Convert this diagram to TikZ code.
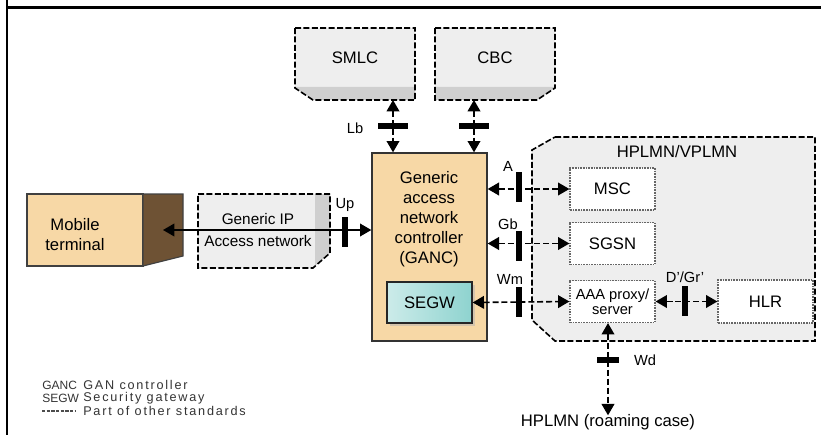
\documentclass[tikz,border=0pt]{standalone}
\usepackage{fontspec}
\setmainfont{Liberation Sans}
\newfontfamily\legendfont[LetterSpace=14]{Liberation Sans}
\usetikzlibrary{arrows.meta,shadows}

\definecolor{tan}{HTML}{F7D8A6}
\definecolor{bark}{HTML}{6E5234}
\definecolor{segwcol}{HTML}{8ED3CF}
\definecolor{netgray}{HTML}{EEEEEE}
\definecolor{stripgray}{HTML}{CFCFCF}

\tikzset{
	tip/.tip={Triangle[length=8.5pt,width=9.5pt]},
	ifarrow/.style={tip-tip, line width=1.2pt, dash pattern=on 4.5pt off 2.2pt},
	uparrow/.style={tip-tip, line width=1.2pt},
	vbar/.style={fill=black, inner sep=0pt, minimum width=3.8pt, minimum height=22pt},
	hbar/.style={fill=black, inner sep=0pt, minimum width=22pt, minimum height=3.8pt},
	otherstd/.style={line width=1.2pt, dash pattern=on 4.5pt off 1.8pt},
	hidden/.style={inner sep=0pt, outer sep=0pt},
	mainlabel/.style={font=\fontsize{12.5}{15}\selectfont, align=center, inner sep=1pt},
	iflabel/.style={font=\fontsize{11}{13}\selectfont, inner sep=1pt},
	netbox/.style={draw=black!60, fill=white, line width=0.9pt, dash pattern=on 1.2pt off 0.8pt,
		minimum width=63.75pt, minimum height=31.5pt, inner sep=0pt, align=center,
		font=\fontsize{12.5}{15}\selectfont},
	legendabbr/.style={text=black!80, font=\fontsize{9}{10}\selectfont, anchor=west, inner sep=0pt},
	legendtxt/.style={text=black!80, font=\legendfont\fontsize{9.5}{10}\selectfont, anchor=west, inner sep=0pt}
}

\begin{document}
\begin{tikzpicture}[x=0.75pt,y=-0.75pt]
	\useasboundingbox (0,0) rectangle (821,435);
	
	% frame
	\draw[line width=2.2pt] (7,0) -- (7,435);
	\draw[line width=2.2pt] (7,7.5) -- (821,7.5);
	
	% SMLC and CBC cards
	\fill[netgray] (295,28) -- (415,28) -- (415,100) -- (313,100) -- (295,88) -- cycle;
	\fill[stripgray] (295,87) -- (415,87) -- (415,100) -- (313,100) -- (295,88) -- cycle;
	\draw[otherstd] (295,28) -- (415,28) -- (415,100) -- (313,100) -- (295,88) -- cycle;
	\fill[netgray] (435,28) -- (555,28) -- (555,88) -- (537,100) -- (435,100) -- cycle;
	\fill[stripgray] (435,87) -- (555,87) -- (555,88) -- (537,100) -- (435,100) -- cycle;
	\draw[otherstd] (435,28) -- (555,28) -- (555,88) -- (537,100) -- (435,100) -- cycle;
	
	% generic IP access network
	\fill[netgray] (198,194) -- (330,194) -- (330,253) -- (313,268) -- (198,268) -- cycle;
	\fill[stripgray] (315,194) -- (330,194) -- (330,253) -- (315,266) -- cycle;
	\draw[otherstd] (198,194) -- (330,194) -- (330,253) -- (313,268) -- (198,268) -- cycle;
	
	% mobile terminal
	\filldraw[fill=tan, draw=black!75, line width=0.9pt] (27,194) rectangle (143,266);
	\filldraw[fill=bark, draw=black!75, line width=0.9pt] (143,194) -- (183,194) -- (183,256) -- (143,266) -- cycle;
	
	% HPLMN/VPLMN area
	\filldraw[fill=netgray, otherstd] (555,137) -- (815,137) -- (815,341) -- (555,341) -- (532,320) -- (532,150) -- cycle;
	
	\node[hidden, minimum width=90pt, minimum height=54pt] (smlc) at (355,64) {};
	\node[hidden, minimum width=90pt, minimum height=54pt] (cbc) at (495,64) {};
	\node[mainlabel] (smlctxt) at (355,58) {SMLC};
	\node[mainlabel] (cbctxt) at (495,58) {CBC};
	\node[mainlabel, font=\fontsize{11.5}{16.5}\selectfont] (iptxt) at (258,230) {Generic IP\\Access network};
	\node[mainlabel] (mt) at (75,235) {Mobile\\terminal};
	\coordinate (mtport) at (163,230);
	
	\node[draw=black!80, fill=tan, line width=1pt, minimum width=86.25pt, minimum height=141pt, inner sep=0pt] (ganc) at (429.5,247) {};
	\node[mainlabel] (ganctxt) at (429,219) {Generic\\access\\network\\controller\\(GANC)};
	\node[draw=black!85, line width=1pt, left color=segwcol!45!white, right color=segwcol,
		drop shadow={shadow xshift=2pt, shadow yshift=-2pt, fill=black!30},
		minimum width=63.75pt, minimum height=30.75pt, inner sep=0pt, font=\fontsize{12.5}{15}\selectfont] (segw) at (429.5,302.5) {SEGW};
	
	\node[mainlabel] (hplmn) at (677,152) {HPLMN/VPLMN};
	\node[netbox] (msc) at (612.5,189) {MSC};
	\node[netbox] (sgsn) at (612.5,243.5) {SGSN};
	\node[netbox, font=\fontsize{11}{11.5}\selectfont] (aaa) at (612.5,301.5) {AAA proxy/\\server};
	\node[netbox, minimum width=71.25pt, minimum height=32.25pt] (hlr) at (765.5,301.5) {HLR};
	\node[mainlabel] (roam) at (608,422) {HPLMN (roaming case)};
	
	% interface bars
	\node[hbar] (lb) at (393,126) {};
	\node[hbar] (cb) at (474,126) {};
	\node[vbar] (up) at (345,232) {};
	\node[vbar] (a) at (519,187) {};
	\node[vbar] (gb) at (519,246) {};
	\node[vbar] (wm) at (519,302) {};
	\node[vbar] (dgr) at (685,301) {};
	\node[hbar, minimum width=16pt] (wd) at (608,360) {};
	
	% reference points
	\path[ifarrow] (smlc.south -| lb) edge (ganc.north -| lb);
	\path[ifarrow] (cbc.south -| cb) edge (ganc.north -| cb);
	\path[uparrow] (mtport) edge (ganc.west |- mtport);
	\path[ifarrow] (ganc.east |- msc) edge (msc.west);
	\path[ifarrow] (ganc.east |- sgsn) edge (sgsn.west);
	\path[ifarrow] (segw.east) edge (aaa.west);
	\path[ifarrow] (aaa.east) edge (hlr.west);
	\path[ifarrow] (aaa.south -| wd) edge ([yshift=-2pt]roam.north -| wd);
	
	\node[hbar] at (lb) {};
	\node[hbar] at (cb) {};
	\node[vbar] at (up) {};
	\node[vbar] at (a) {};
	\node[vbar] at (gb) {};
	\node[vbar] at (wm) {};
	\node[vbar] at (dgr) {};
	\node[hbar, minimum width=16pt] at (wd) {};
	
	\node[iflabel] (lbtxt) at (355,128) {Lb};
	\node[iflabel] (uptxt) at (345,205) {Up};
	\node[iflabel] (atxt) at (508,166) {A};
	\node[iflabel] (gbtxt) at (508,224) {Gb};
	\node[iflabel] (wmtxt) at (510,279) {Wm};
	\node[iflabel] (dgrtxt) at (685,277) {D'/Gr'};
	\node[iflabel] (wdtxt) at (645,360) {Wd};
	
	% legend
	\node[legendabbr] (lg1) at (42,385) {GANC};
	\node[legendabbr] (lg2) at (42,398) {SEGW};
	\node[legendtxt] (lg1d) at (83,385) {GAN controller};
	\node[legendtxt] (lg2d) at (83,398) {Security gateway};
	\node[legendtxt] (lg3d) at (83,411) {Part of other standards};
	\draw[black!70, line width=0.8pt, dash pattern=on 2.5pt off 1pt] (42,411) -- (76,411);
	
\end{tikzpicture}
\end{document}
